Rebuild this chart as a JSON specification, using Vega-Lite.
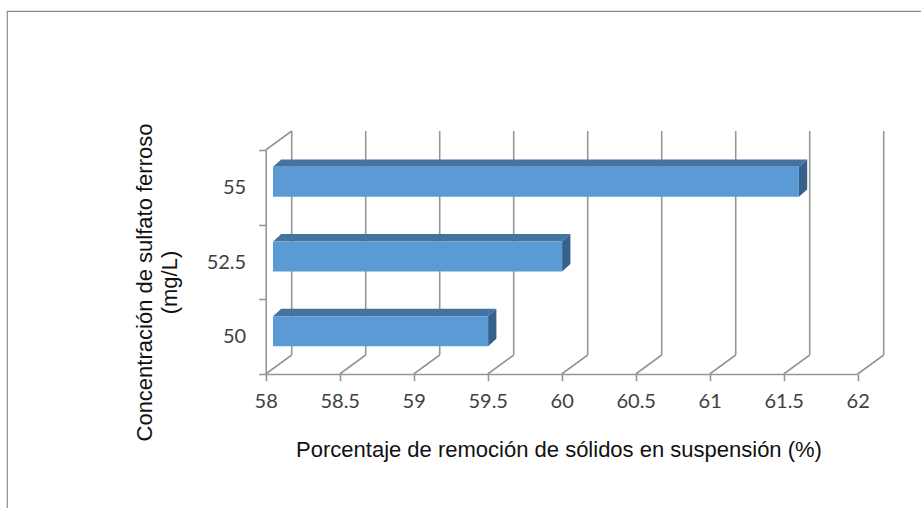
{
  "$schema": "https://vega.github.io/schema/vega-lite/v6.json",
  "width": 924,
  "height": 502,
  "autosize": {"type": "none"},
  "padding": {"left": 7, "top": 11, "right": -10, "bottom": -5},
  "background": "white",
  "config": {
    "view": {"stroke": "#8c8c8c", "strokeWidth": 1.2},
    "font": "Liberation Sans",
    "axis": {"grid": false}
  },
  "datasets": {
    "ticks": [
      {"v": 58}, {"v": 58.5}, {"v": 59}, {"v": 59.5}, {"v": 60},
      {"v": 60.5}, {"v": 61}, {"v": 61.5}, {"v": 62}
    ],
    "bars": [
      {"conc": 55, "pct": 61.6},
      {"conc": 52.5, "pct": 60},
      {"conc": 50, "pct": 59.5}
    ]
  },
  "layer": [
    {
      "data": {"name": "ticks"},
      "mark": {"type": "rule", "color": "#969696", "strokeWidth": 1.6, "xOffset": 26, "yOffset": -19, "y2Offset": -19},
      "encoding": {
        "x": {
          "field": "v", "type": "quantitative",
          "scale": {"domain": [58, 62], "range": [258.7, 850.7], "nice": false, "zero": false, "padding": 0},
          "axis": {
            "orient": "bottom",
            "offset": -139,
            "values": [58, 58.5, 59, 59.5, 60, 60.5, 61, 61.5, 62],
            "format": "~g",
            "labelFlush": false,
            "labelOverlap": false,
            "domainColor": "#969696",
            "domainWidth": 1.6,
            "tickColor": "#969696",
            "tickWidth": 1.6,
            "tickSize": 6.7,
            "labelFont": "Lato",
            "labelFontSize": 20,
            "labelColor": "#404040",
            "labelPadding": 11,
            "title": "Porcentaje de remoción de sólidos en suspensión (%)",
            "titleFont": "Liberation Sans",
            "titleFontSize": 22,
            "titleFontWeight": "normal",
            "titleColor": "#111111",
            "titleX": 551.5,
            "titleY": 82,
            "titleAlign": "center",
            "titleBaseline": "alphabetic"
          }
        },
        "y": {
          "datum": 48.75, "type": "quantitative",
          "scale": {"domain": [48.75, 56.25], "range": [363, 139], "nice": false, "zero": false, "padding": 0},
          "axis": {
            "orient": "left",
            "offset": -258.7,
            "values": [48.75, 51.25, 53.75, 56.25],
            "labelExpr": "datum.value < 56 ? format(datum.value + 1.25, '~g') : ''",
            "labelOffset": -37.3,
            "labelFlush": false,
            "labelOverlap": false,
            "domainColor": "#969696",
            "domainWidth": 1.6,
            "tickColor": "#969696",
            "tickWidth": 1.6,
            "tickSize": 7,
            "labelFont": "Lato",
            "labelFontSize": 20,
            "labelColor": "#404040",
            "labelPadding": 13,
            "labelAngle": 0,
            "title": ["Concentración de sulfato ferroso", "\u00a0\u00a0\u00a0\u00a0\u00a0\u00a0(mg/L)"],
            "titleFont": "Liberation Sans",
            "titleFontSize": 22,
            "titleFontWeight": "normal",
            "titleColor": "#111111",
            "titleLineHeight": 25,
            "titleAngle": -90,
            "titleX": -114,
            "titleY": 271,
            "titleAlign": "center",
            "titleBaseline": "alphabetic"
          }
        },
        "y2": {"datum": 56.25}
      }
    },
    {
      "data": {"name": "ticks"},
      "mark": {"type": "rule", "color": "#969696", "strokeWidth": 1.6, "x2Offset": 26, "y2Offset": -19},
      "encoding": {
        "x": {"field": "v", "type": "quantitative"},
        "x2": {"field": "v"},
        "y": {"datum": 48.75, "type": "quantitative"},
        "y2": {"datum": 48.75}
      }
    },
    {
      "data": {"values": [{}]},
      "mark": {"type": "rule", "color": "#969696", "strokeWidth": 1.6, "x2Offset": 26, "y2Offset": -19},
      "encoding": {
        "x": {"datum": 58, "type": "quantitative"},
        "x2": {"datum": 58},
        "y": {"datum": 56.25, "type": "quantitative"},
        "y2": {"datum": 56.25}
      }
    },
    {
      "data": {"name": "bars"},
      "mark": {"type": "bar", "orient": "horizontal", "color": "#44739f", "height": 7.4, "xOffset": 0.9, "x2Offset": 15.1, "yOffset": -24.2},
      "encoding": {
        "x": {"field": "pct", "type": "quantitative"},
        "x2": {"datum": 58},
        "y": {"field": "conc", "type": "quantitative"}
      }
    },
    {
      "data": {"name": "bars"},
      "mark": {"type": "point", "filled": true, "opacity": 1, "size": 400, "color": "#44739f", "strokeWidth": 0, "xOffset": 7.3, "yOffset": -5.5,
               "shape": "M0,-1.5L0.83,-2.24L0.83,-1.5Z"},
      "encoding": {
        "x": {"datum": 58, "type": "quantitative"},
        "y": {"field": "conc", "type": "quantitative"}
      }
    },
    {
      "data": {"name": "bars"},
      "mark": {"type": "point", "filled": true, "opacity": 1, "size": 400, "color": "#44739f", "strokeWidth": 0, "xOffset": 0.4, "yOffset": -5.5,
               "shape": "M0,-1.5L0.83,-2.24L0,-2.24Z"},
      "encoding": {
        "x": {"field": "pct", "type": "quantitative"},
        "y": {"field": "conc", "type": "quantitative"}
      }
    },
    {
      "data": {"name": "bars"},
      "mark": {"type": "point", "filled": true, "opacity": 1, "size": 400, "color": "#37618a", "strokeWidth": 0, "xOffset": 0.4, "yOffset": -5.5,
               "shape": "M0,-1.5L0.83,-2.24L0.83,0.76L0,1.5Z"},
      "encoding": {
        "x": {"field": "pct", "type": "quantitative"},
        "y": {"field": "conc", "type": "quantitative"}
      }
    },
    {
      "data": {"name": "bars"},
      "mark": {"type": "bar", "orient": "horizontal", "color": "#5b9bd5", "height": 30, "xOffset": 0.4, "x2Offset": 7.3, "yOffset": -5.5},
      "encoding": {
        "x": {"field": "pct", "type": "quantitative"},
        "x2": {"datum": 58},
        "y": {"field": "conc", "type": "quantitative"}
      }
    }
  ]
}
